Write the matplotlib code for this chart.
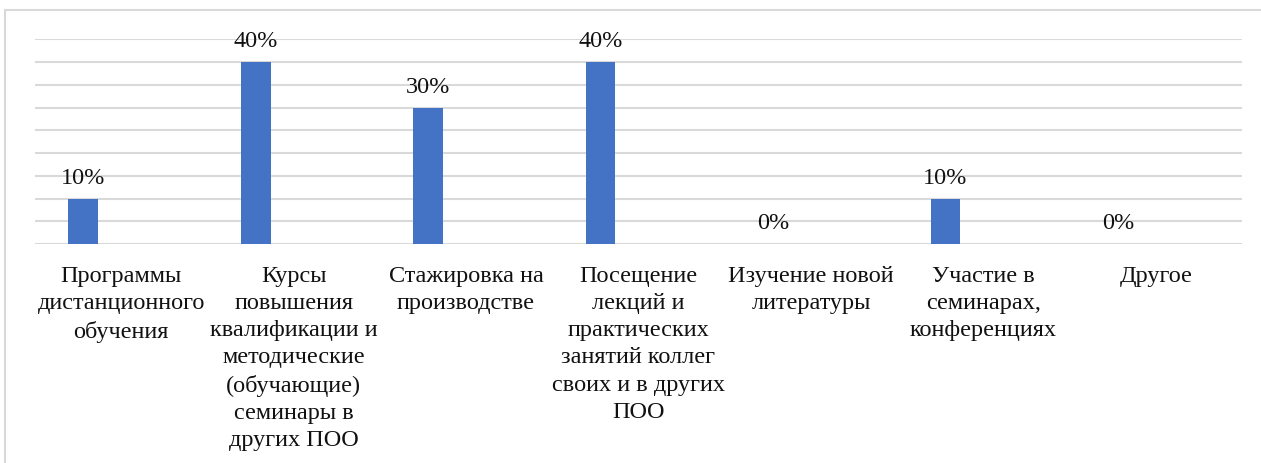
import matplotlib
matplotlib.use('Agg')
import matplotlib.pyplot as plt
from matplotlib.patches import Rectangle

# data
categories = ['Программы\nдистанционного\nобучения',
              'Курсы\nповышения\nквалификации и\nметодические\n(обучающие)\nсеминары в\nдругих ПОО',
              'Стажировка на\nпроизводстве',
              'Посещение\nлекций и\nпрактических\nзанятий коллег\nсвоих и в других\nПОО',
              'Изучение новой\nлитературы',
              'Участие в\nсеминарах,\nконференциях',
              'Другое']
values = [10, 40, 30, 40, 0, 10, 0]

plt.rcParams['font.family'] = 'Liberation Serif'

fig = plt.figure(figsize=(12.61, 4.63), dpi=100)
# outer chart frame, cut by the image on the right and bottom
fig.patches.append(Rectangle((5/1261, -0.5), 1.2, 1.5 - 10/463, transform=fig.transFigure,
                             fill=False, edgecolor='#d9d9d9', lw=1.5))
ax = fig.add_axes([35/1261, 219/463, 1207/1261, 204.7/463])

x = list(range(len(values)))
bx = [i - 0.22 for i in x]
ax.bar(bx, values, width=0.172, color='#4472C4', zorder=3)

for xi, v in zip(bx, values):
    ax.annotate(f'{v}%', (xi, v), xytext=(0, 7), textcoords='offset points',
                ha='center', va='bottom', fontsize=17.5, color='#111111')

ax.set_xlim(-0.5, 6.5)
ax.set_ylim(0, 45)
ax.set_yticks(range(0, 46, 5))
ax.set_yticklabels([])
ax.tick_params(axis='y', length=0)
ax.grid(axis='y', color='#d9d9d9', lw=1.5, zorder=0)
for s in ax.spines.values():
    s.set_visible(False)

ax.set_xticks(x)
ax.set_xticklabels(categories, fontsize=17.5, linespacing=1.38, color='#111111')
ax.tick_params(axis='x', length=0, pad=16)

fig.savefig('out.png', dpi=100)
